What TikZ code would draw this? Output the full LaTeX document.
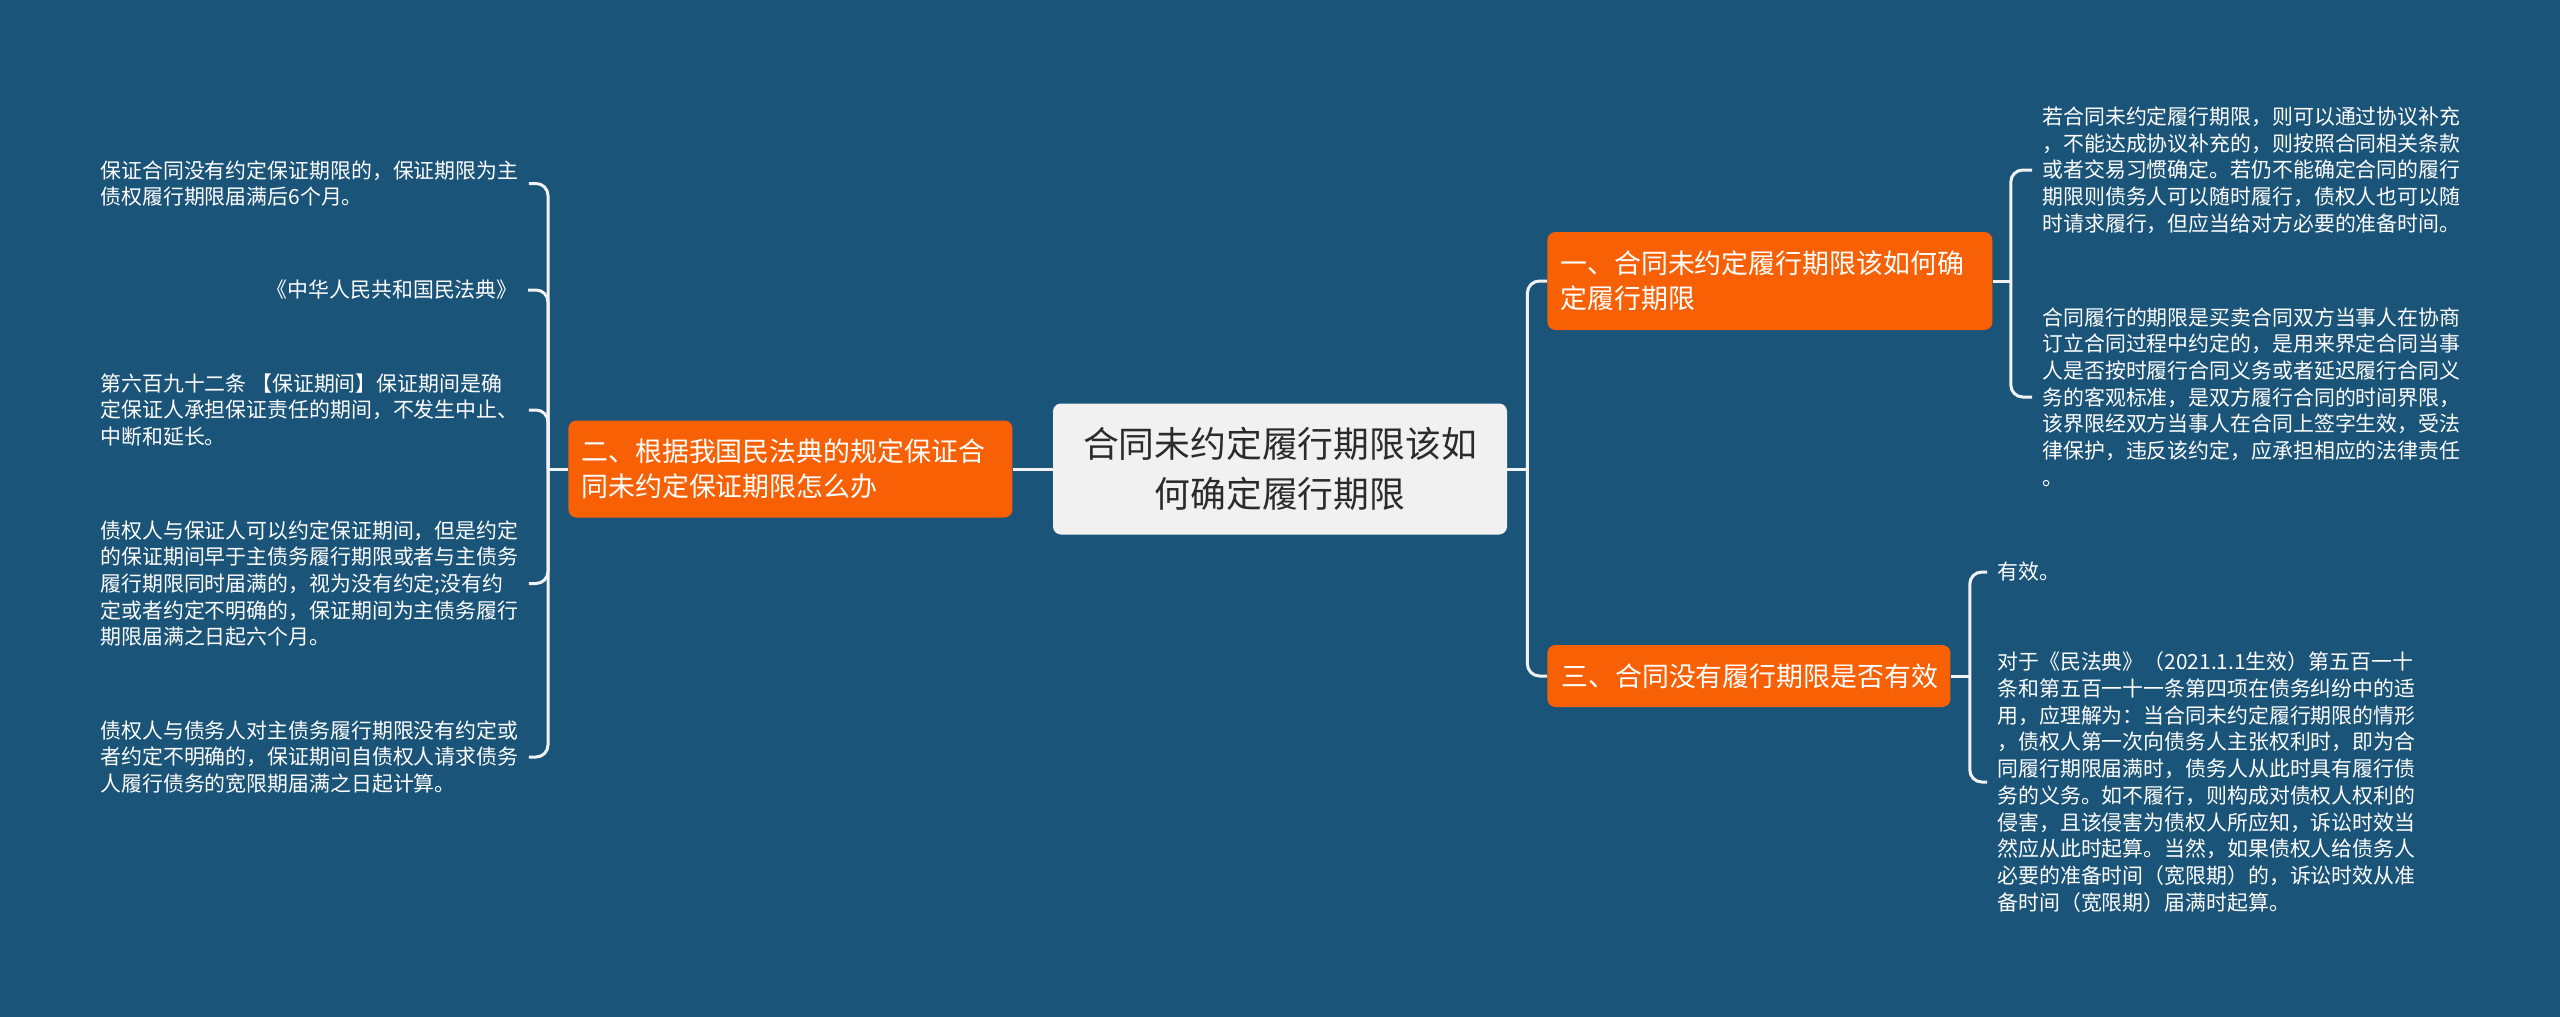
\documentclass[tikz,border=0pt]{standalone}
\usepackage{fontspec}
\setmainfont{Noto Sans CJK SC}
\definecolor{fondo}{HTML}{1B5479}
\definecolor{naranja}{HTML}{F86006}
\definecolor{grisclaro}{HTML}{F1F1F1}
\definecolor{tinta}{HTML}{2B2B2B}
\definecolor{linea}{HTML}{F2F2F2}
\tikzset{
  tema/.style={rectangle, rounded corners=4pt, fill=grisclaro, text=tinta, align=center,
               font=\fontsize{17.9pt}{25pt}\selectfont, minimum width=227pt, minimum height=65.5pt},
  rama/.style={rectangle, rounded corners=4pt, fill=naranja, text=white, align=left,
               font=\fontsize{13.45pt}{17.5pt}\selectfont, inner xsep=6.5pt},
  hoja/.style={rectangle, text=white, align=left, inner xsep=5pt, inner ysep=0pt,
               font=\fontsize{10.45pt}{13.35pt}\selectfont},
  conector/.style={draw=linea, line width=1.5pt, rounded corners=6pt}
}
\begin{document}
\begin{tikzpicture}[x=0.5pt, y=-0.5pt]
  \fill[fondo] (0,0) rectangle (2560,1017);
  \useasboundingbox (0,0) rectangle (2560,1017);
  % tema central y ramas
  \node (c) [tema] at (1280,469) {合同未约定履行期限该如\\何确定履行期限};
  \node (n1) [rama, anchor=west, text width=209.5pt, minimum height=49pt] at (1547,281) {一、合同未约定履行期限该如何确\\定履行期限};
  \node (n2) [rama, anchor=west, text width=209pt, minimum height=48.5pt] at (568,469) {二、根据我国民法典的规定保证合\\同未约定保证期限怎么办};
  \node (n3) [rama, anchor=west, text width=187.5pt, inner xsep=7pt, minimum height=31pt] at (1547,676) {三、合同没有履行期限是否有效};
  % hojas izquierda
  \node (l1) [hoja, anchor=west] at (90,183.5) {保证合同没有约定保证期限的，保证期限为主\\债权履行期限届满后6个月。};
  \node (l2) [hoja, anchor=east] at (528,290) {《中华人民共和国民法典》};
  \node (l3) [hoja, anchor=west] at (90,410) {第六百九十二条 【保证期间】保证期间是确\\定保证人承担保证责任的期间，不发生中止、\\中断和延长。};
  \node (l4) [hoja, anchor=west] at (90,583.5) {债权人与保证人可以约定保证期间，但是约定\\的保证期间早于主债务履行期限或者与主债务\\履行期限同时届满的，视为没有约定;没有约\\定或者约定不明确的，保证期间为主债务履行\\期限届满之日起六个月。};
  \node (l5) [hoja, anchor=west] at (90,757) {债权人与债务人对主债务履行期限没有约定或\\者约定不明确的，保证期间自债权人请求债务\\人履行债务的宽限期届满之日起计算。};
  % hojas derecha
  \node (r1) [hoja, anchor=west] at (2032,170) {若合同未约定履行期限，则可以通过协议补充\\，不能达成协议补充的，则按照合同相关条款\\或者交易习惯确定。若仍不能确定合同的履行\\期限则债务人可以随时履行，债权人也可以随\\时请求履行，但应当给对方必要的准备时间。};
  \node (r2) [hoja, anchor=west] at (2032,397) {合同履行的期限是买卖合同双方当事人在协商\\订立合同过程中约定的，是用来界定合同当事\\人是否按时履行合同义务或者延迟履行合同义\\务的客观标准，是双方履行合同的时间界限，\\该界限经双方当事人在合同上签字生效，受法\\律保护，违反该约定，应承担相应的法律责任\\。};
  \node (b1) [hoja, anchor=west] at (1987,572) {有效。};
  \node (b2) [hoja, anchor=west] at (1987,782) {对于《民法典》（2021.1.1生效）第五百一十\\条和第五百一十一条第四项在债务纠纷中的适\\用，应理解为：当合同未约定履行期限的情形\\，债权人第一次向债务人主张权利时，即为合\\同履行期限届满时，债务人从此时具有履行债\\务的义务。如不履行，则构成对债权人权利的\\侵害，且该侵害为债权人所应知，诉讼时效当\\然应从此时起算。当然，如果债权人给债务人\\必要的准备时间（宽限期）的，诉讼时效从准\\备时间（宽限期）届满时起算。};
  % conectores
  \coordinate (hubc) at ([xshift=10pt]c.east);
  \coordinate (hub1) at ([xshift=9pt]n1.east);
  \coordinate (hub2) at ([xshift=-10pt]n2.west);
  \coordinate (hub3) at ([xshift=9.5pt]n3.east);
  \draw [conector] (c.west) -- (n2.east);
  \draw [conector] (c.east) -- (hubc);
  \foreach \r in {n1,n3} \draw [conector] (hubc) |- (\r.west);
  \draw [conector] (n2.west) -- (hub2);
  \foreach \h in {l1,l2,l3,l4,l5} \draw [conector] (hub2) |- (\h.east);
  \draw [conector] (n1.east) -- (hub1);
  \foreach \h in {r1,r2} \draw [conector] (hub1) |- (\h.west);
  \draw [conector] (n3.east) -- (hub3);
  \foreach \h in {b1,b2} \draw [conector] (hub3) |- (\h.west);
\end{tikzpicture}
\end{document}
